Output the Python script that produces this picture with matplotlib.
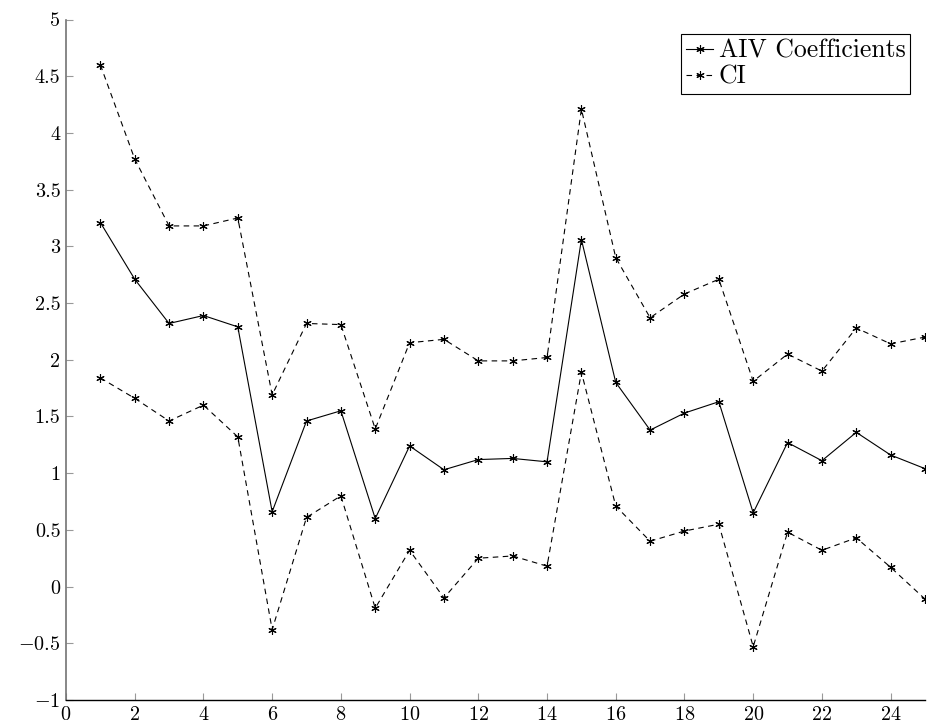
import matplotlib
matplotlib.use('Agg')
import matplotlib.pyplot as plt
import numpy as np

plt.rcParams.update({
    'font.family': 'serif',
    'font.serif': ['cmr10'],
    'mathtext.fontset': 'cm',
    'axes.formatter.use_mathtext': True,
    'font.size': 14.5,
})

x = list(range(1, 26))
coef = [3.21, 2.71, 2.32, 2.39, 2.29, 0.66, 1.46, 1.55, 0.60, 1.24, 1.03, 1.12, 1.13,
        1.10, 3.06, 1.80, 1.38, 1.53, 1.63, 0.65, 1.27, 1.11, 1.36, 1.16, 1.04]
ci_upper = [4.60, 3.77, 3.18, 3.18, 3.25, 1.69, 2.32, 2.31, 1.39, 2.15, 2.18, 1.99, 1.99,
            2.02, 4.21, 2.90, 2.37, 2.58, 2.71, 1.81, 2.05, 1.90, 2.28, 2.14, 2.20]
ci_lower = [1.84, 1.66, 1.46, 1.60, 1.32, -0.38, 0.61, 0.80, -0.19, 0.32, -0.10, 0.25, 0.27,
            0.18, 1.89, 0.71, 0.40, 0.49, 0.55, -0.53, 0.48, 0.32, 0.43, 0.17, -0.11]

asterisk = (6, 2, 0)

fig = plt.figure(figsize=(9.27, 7.23), dpi=100)
ax = fig.add_axes([66 / 927, 1 - 700 / 723, 859 / 927, 680.5 / 723])

ax.plot(x, coef, color='black', lw=0.8, marker=asterisk, ms=6, mew=0.8,
        label='AIV Coefficients')
ax.plot(x, ci_upper, color='black', lw=0.8, dashes=(5, 4), marker=asterisk, ms=6, mew=0.8,
        label='CI')
ax.plot(x, ci_lower, color='black', lw=0.8, dashes=(5, 4), marker=asterisk, ms=6, mew=0.8)

ax.set_xlim(0, 25)
ax.set_ylim(-1, 5)
ax.set_xticks(np.arange(0, 25, 2))
ax.set_yticks(np.arange(-1, 5.01, 0.5))
ax.set_yticklabels(['$-1$', '$-0.5$', '0', '0.5', '1', '1.5', '2', '2.5', '3', '3.5',
                    '4', '4.5', '5'])

ax.spines['top'].set_visible(False)
ax.spines['right'].set_visible(False)
ax.spines['left'].set_color('0.45')
ax.spines['left'].set_linewidth(1.2)
ax.spines['bottom'].set_color('black')
ax.spines['bottom'].set_linewidth(1.0)
ax.tick_params(direction='in', length=5, color='0.6', width=0.8, pad=4)

leg = ax.legend(loc='upper right', bbox_to_anchor=(0.983, 0.979), fancybox=False,
                edgecolor='black', framealpha=1, handlelength=1.05, handletextpad=0.2,
                borderpad=0.2, labelspacing=0.1, borderaxespad=0.0, fontsize=18.5)
leg.get_frame().set_linewidth(0.8)

fig.savefig('out.png', dpi=100)
